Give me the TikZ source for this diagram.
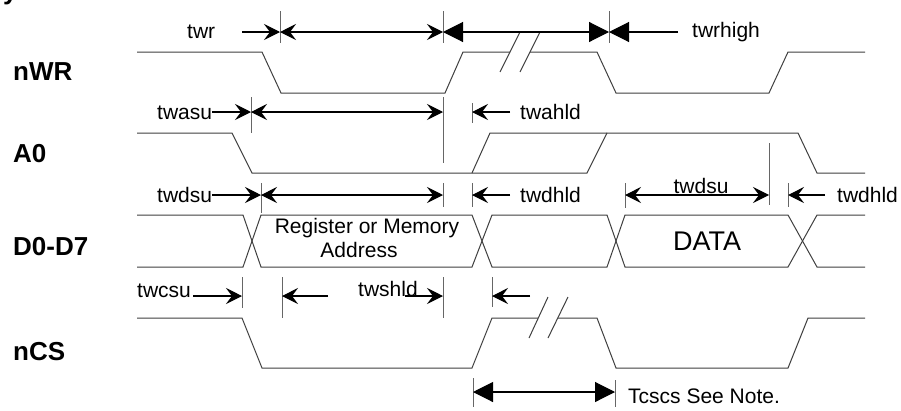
\documentclass[tikz,border=0pt]{standalone}
\usepackage{fontspec}
\setmainfont{Liberation Sans}
\usetikzlibrary{arrows.meta}
\begin{document}
\begin{tikzpicture}[x=1pt,y=-1pt,
  sig/.style={draw=black!75, line width=1pt},
  tickline/.style={draw=black!60, line width=1pt},
  dim/.style={draw=black, line width=1.1pt},
  sa/.style={-{Stealth[length=16pt,width=16pt,inset=6pt]}},
  sab/.style={{Stealth[length=16pt,width=16pt,inset=6pt]}-{Stealth[length=16pt,width=16pt,inset=6pt]}},
  ta/.style={-{Triangle[length=20pt,width=20pt]}},
  tab/.style={{Triangle[length=20pt,width=20pt]}-{Triangle[length=20pt,width=20pt]}},
  signame/.style={anchor=base west, inner sep=0pt, font=\fontsize{26}{30}\selectfont\bfseries},
  lbl/.style={anchor=base west, inner sep=0pt, font=\fontsize{21}{25}\selectfont},
  lblc/.style={anchor=base, inner sep=0pt, font=\fontsize{21}{25}\selectfont},
]
\useasboundingbox (0,0) rectangle (901,410);
\fill[white] (0,0) rectangle (901,410);

% clipped title fragment
\node[signame] (ttl) at (3,-1) {y};

% signal names
\node[signame] (nwr) at (13,80) {nWR};
\node[signame] (a0)  at (13,162) {A0};
\node[signame] (dd)  at (13,255) {D0-D7};
\node[signame] (ncs) at (13,360) {nCS};

% ---------- nWR ----------
\draw[sig] (137,52) -- (262,52) -- (281,93) -- (445,93) -- (463,52) -- (510,52);
\draw[sig] (530,52) -- (597,52) -- (616,93) -- (769,93) -- (788,52) -- (865,52);
\draw[sig] (500,72) -- (520,32);
\draw[sig] (520,72) -- (540,32);

% ---------- A0 ----------
\draw[sig] (137,133) -- (232,133) -- (252,173) -- (587,173) -- (607,133) -- (798,133) -- (817,173) -- (865,173);
\draw[sig] (472,173) -- (490,133) -- (607,133);

% ---------- D0-D7 ----------
\draw[sig] (137,215) -- (243,215) -- (261,267) -- (472,267) -- (492,215) -- (607,215) -- (625,267) -- (788,267) -- (817,215) -- (865,215);
\draw[sig] (137,267) -- (243,267) -- (261,215) -- (472,215) -- (492,267) -- (607,267) -- (625,215) -- (788,215) -- (817,267) -- (865,267);
\node[lblc] (reg) at (367,233) {Register or Memory};
\node[lblc] (adr) at (359,257) {Address};
\node[anchor=base, inner sep=0pt, font=\fontsize{27}{31}\selectfont] (data) at (707,250) {DATA};

% ---------- nCS ----------
\draw[sig] (137,318) -- (242,318) -- (262,368) -- (472,368) -- (492,318) -- (538,318);
\draw[sig] (558,318) -- (597,318) -- (616,368) -- (788,368) -- (808,318) -- (865,318);
\draw[sig] (529,338) -- (548,297);
\draw[sig] (548,338) -- (568,297);

% ---------- row 1 timing (y=32) ----------
\draw[tickline] (280,11) -- (280,43);
\draw[tickline] (443,11) -- (443,43);
\draw[tickline] (609,11) -- (609,43);
\node[lbl] (twr) at (187,38) {twr};
\node[lbl] (twrhigh) at (692,37) {twrhigh};
\coordinate (r1a) at (242,32);
\coordinate (r1b) at (280,32);
\coordinate (r1c) at (443,32);
\coordinate (r1d) at (609,32);
\coordinate (r1e) at (678,32);
\draw[dim,sa] (r1a) -- (r1b);
\draw[dim,sab] (r1b) -- (r1c);
\draw[dim,tab] (r1c) -- (r1d);
\draw[dim,ta] (r1e) -- (r1d);

% ---------- row 2 timing (y=112) ----------
\draw[tickline] (251,97) -- (251,133);
\draw[tickline] (443,97) -- (443,163);
\draw[tickline] (472,103) -- (472,123);
\node[lbl] (twasu) at (157,119) {twasu};
\node[lbl] (twahld) at (520,119) {twahld};
\coordinate (r2a) at (212,112);
\coordinate (r2b) at (251,112);
\coordinate (r2c) at (443,112);
\coordinate (r2d) at (472,112);
\coordinate (r2e) at (510,112);
\draw[dim,sa] (r2a) -- (r2b);
\draw[dim,sab] (r2b) -- (r2c);
\draw[dim,sa] (r2e) -- (r2d);

% ---------- row 3 timing (y=195) ----------
\draw[tickline] (261,183) -- (261,213);
\draw[tickline] (443,183) -- (443,207);
\draw[tickline] (472,183) -- (472,207);
\draw[tickline] (625,183) -- (625,208);
\draw[tickline] (769,143) -- (769,205);
\draw[tickline] (788,183) -- (788,207);
\node[lbl] (twdsu) at (157,202) {twdsu};
\node[lbl] (twdhld) at (520,202) {twdhld};
\node[lblc] (twdsub) at (701,193) {twdsu};
\node[lbl] (twdhldb) at (837,202) {twdhld};
\coordinate (r3a) at (212,195);
\coordinate (r3b) at (261,195);
\coordinate (r3c) at (443,195);
\coordinate (r3d) at (472,195);
\coordinate (r3e) at (510,195);
\coordinate (r3f) at (625,195);
\coordinate (r3g) at (769,195);
\coordinate (r3h) at (788,195);
\coordinate (r3i) at (825,195);
\draw[dim,sa] (r3a) -- (r3b);
\draw[dim,sab] (r3b) -- (r3c);
\draw[dim,sa] (r3e) -- (r3d);
\draw[dim,sab] (r3f) -- (r3g);
\draw[dim,sa] (r3i) -- (r3h);

% ---------- row 4 timing (y=296) ----------
\draw[tickline] (242,277) -- (242,308);
\draw[tickline] (282,277) -- (282,318);
\draw[tickline] (443,277) -- (443,318);
\draw[tickline] (492,277) -- (492,307);
\node[lbl] (twcsu) at (137,297) {twcsu};
\node[lbl] (twshld) at (358,296) {twshld};
\coordinate (r4a) at (193,296);
\coordinate (r4b) at (242,296);
\coordinate (r4c) at (282,296);
\coordinate (r4d) at (328,296);
\coordinate (r4e) at (405,296);
\coordinate (r4f) at (443,296);
\coordinate (r4g) at (492,296);
\coordinate (r4h) at (530,296);
\draw[dim,sa] (r4a) -- (r4b);
\draw[dim,sa] (r4d) -- (r4c);
\draw[dim,sa] (r4e) -- (r4f);
\draw[dim,sa] (r4h) -- (r4g);

% ---------- Tcscs ----------
\draw[tickline] (473,378) -- (473,407);
\draw[tickline] (615,380) -- (615,407);
\coordinate (t5a) at (473,392);
\coordinate (t5b) at (615,392);
\draw[dim,tab] (t5a) -- (t5b);
\node[lbl] (tcscs) at (628,403) {Tcscs See Note.};
\end{tikzpicture}
\end{document}
